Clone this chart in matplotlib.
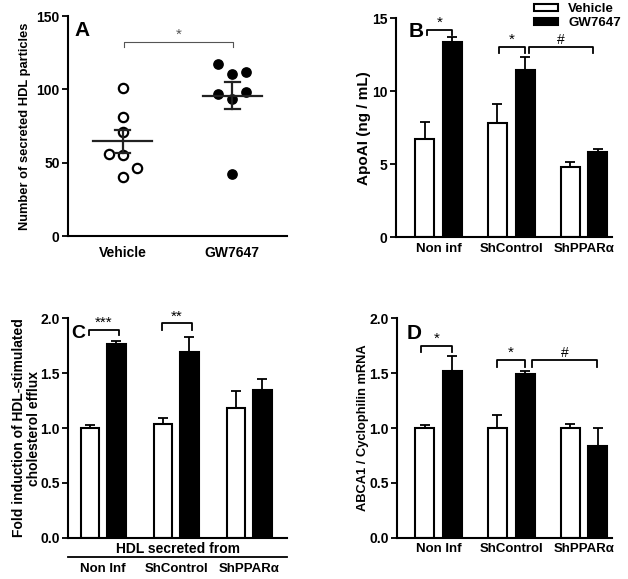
import matplotlib
matplotlib.use('Agg')
import matplotlib.pyplot as plt
from matplotlib.patches import Patch

plt.rcParams['font.family'] = ['Liberation Sans', 'DejaVu Sans']
plt.rcParams['font.weight'] = 'bold'
plt.rcParams['axes.labelweight'] = 'bold'

# panel A - dot plot
a_groups = ['Vehicle', 'GW7647']
a_vehicle = [101, 81.4, 71.1, 56.1, 55.2, 46.1, 40.2]
a_vehicle_dx = [0, 0, 0, -0.13, 0, 0.13, 0]
a_gw = [117, 110.5, 112, 97, 98.4, 93.4, 42.3]
a_gw_dx = [-0.13, 0, 0.13, -0.13, 0.13, 0, 0]
a_mean = [64.5, 95.7]
a_sem = [8.0, 9.3]

# bar panels
groups_b = ['Non inf', 'ShControl', 'ShPPARα']
groups_cd = ['Non Inf', 'ShControl', 'ShPPARα']

b_vehicle = [6.71, 7.85, 4.84]
b_vehicle_err = [1.21, 1.31, 0.30]
b_gw = [13.4, 11.48, 5.82]
b_gw_err = [0.3, 0.87, 0.21]

c_vehicle = [1.00, 1.04, 1.18]
c_vehicle_err = [0.03, 0.05, 0.155]
c_gw = [1.77, 1.69, 1.345]
c_gw_err = [0.025, 0.14, 0.10]

d_vehicle = [1.00, 1.00, 1.00]
d_vehicle_err = [0.025, 0.12, 0.04]
d_gw = [1.52, 1.49, 0.835]
d_gw_err = [0.135, 0.03, 0.165]

W, H = 628, 579
fig = plt.figure(figsize=(W / 100, H / 100), dpi=100)


def make_axes(left, right, top, bottom):
    ax = fig.add_axes([left / W, 1 - bottom / H, (right - left) / W, (bottom - top) / H])
    ax.spines['top'].set_visible(False)
    ax.spines['right'].set_visible(False)
    ax.spines['left'].set_linewidth(1.5)
    ax.spines['bottom'].set_linewidth(1.5)
    ax.tick_params(axis='y', length=4, width=1.3, pad=2, labelsize=10)
    ax.tick_params(axis='x', length=0, labelsize=9.5)
    return ax


def bracket(ax, x1, x2, y_top, y_low, txt, color='black', lw=1.3, fs=11):
    ax.plot([x1, x1, x2, x2], [y_low, y_top, y_top, y_low], color=color, lw=lw, clip_on=False)
    ax.text((x1 + x2) / 2, y_top, txt, ha='center', va='bottom', fontsize=fs, color=color,
            fontweight='normal')


def bar_panel(ax, veh, veh_err, gw, gw_err, off, width):
    x = range(len(veh))
    xv = [i - off for i in x]
    xg = [i + off for i in x]
    ax.bar(xv, veh, width, color='white', edgecolor='black', linewidth=1.5, zorder=2)
    ax.bar(xg, gw, width, color='black', edgecolor='black', linewidth=1.5, zorder=2)
    ax.errorbar(xv, veh, yerr=[[0] * len(veh), veh_err], fmt='none', ecolor='black',
                elinewidth=1.3, capsize=3.5, capthick=1.3, zorder=1)
    ax.errorbar(xg, gw, yerr=[[0] * len(gw), gw_err], fmt='none', ecolor='black',
                elinewidth=1.3, capsize=3.5, capthick=1.3, zorder=1)


# ---- A ----
axA = make_axes(68, 287, 16, 236)
axA.set_xlim(-0.5, 1.5)
axA.set_ylim(0, 150)
axA.set_yticks([0, 50, 100, 150])
axA.plot([0 + d for d in a_vehicle_dx], a_vehicle, 'o', ms=6.7, mfc='white', mec='black', mew=1.6,
         clip_on=False)
axA.plot([1 + d for d in a_gw_dx], a_gw, 'o', ms=6.7, mfc='black', mec='black', clip_on=False)
for i in range(2):
    axA.plot([i - 0.27, i + 0.27], [a_mean[i], a_mean[i]], color='#222222', lw=1.6)
    axA.plot([i, i], [a_mean[i] - a_sem[i], a_mean[i] + a_sem[i]], color='#222222', lw=1.6)
    for s in (-1, 1):
        axA.plot([i - 0.07, i + 0.07], [a_mean[i] + s * a_sem[i]] * 2, color='#222222', lw=1.6)
axA.set_xticks([0, 1])
axA.set_xticklabels(a_groups)
axA.tick_params(axis='x', pad=7, labelsize=10)
axA.set_ylabel('Number of secreted HDL particles', fontsize=9.3)
axA.yaxis.set_label_coords(-0.169, 0.5)
bracket(axA, 0.01, 1.01, 132.3, 129.2, '*', color='#555555', lw=0.8)
axA.text(0.03, 0.935, 'A', transform=axA.transAxes, fontsize=15, fontweight='bold', va='center')

# ---- B ----
axB = make_axes(395.7, 612, 18.3, 237.3)
bar_panel(axB, b_vehicle, b_vehicle_err, b_gw, b_gw_err, 0.19, 0.26)
axB.set_xlim(-0.59, 2.385)
axB.set_ylim(0, 15)
axB.set_yticks([0, 5, 10, 15])
axB.set_xticks([0, 1, 2])
axB.set_xticklabels(groups_b)
axB.tick_params(axis='x', pad=4)
axB.set_ylabel('ApoAI (ng / mL)', fontsize=11)
axB.yaxis.set_label_coords(-0.114, 0.5)
bracket(axB, -0.16, 0.19, 14.2, 13.86, '*')
bracket(axB, 0.83, 1.19, 13.06, 12.65, '*')
bracket(axB, 1.24, 2.12, 13.06, 12.65, '#', fs=10)
axB.text(0.06, 0.94, 'B', transform=axB.transAxes, fontsize=15, fontweight='bold', va='center')
handles = [Patch(facecolor='white', edgecolor='black', linewidth=1.5, label='Vehicle'),
           Patch(facecolor='black', edgecolor='black', linewidth=1.5, label='GW7647')]
fig.legend(handles=handles, loc='upper right', bbox_to_anchor=(621 / W, 1 - 3 / H),
           frameon=False, fontsize=9.5, handlelength=1.8, handleheight=0.5,
           handletextpad=0.8, labelspacing=0.15, borderpad=0, borderaxespad=0)

# ---- C ----
axC = make_axes(68.3, 287, 318.3, 537.7)
bar_panel(axC, c_vehicle, c_vehicle_err, c_gw, c_gw_err, 0.18, 0.255)
axC.set_xlim(-0.477, 2.518)
axC.set_ylim(0, 2.0)
axC.set_yticks([0, 0.5, 1.0, 1.5, 2.0])
axC.set_yticklabels(['0.0', '0.5', '1.0', '1.5', '2.0'])
axC.set_xticks([0, 1, 2])
axC.set_xticklabels(groups_cd)
axC.tick_params(axis='x', pad=18)
axC.set_ylabel('Fold induction of HDL-stimulated\ncholesterol efflux', fontsize=10, linespacing=1.05)
axC.yaxis.set_label_coords(-0.126, 0.5)
axC.text(0.5, -0.052, 'HDL secreted from', transform=axC.transAxes, ha='center', va='center',
         fontsize=10)
axC.plot([0, 1], [-0.087, -0.087], transform=axC.transAxes, color='black', lw=1.3, clip_on=False)
bracket(axC, -0.195, 0.218, 1.894, 1.848, '***')
bracket(axC, 0.805, 1.214, 1.954, 1.894, '**')
axC.text(0.012, 0.93, 'C', transform=axC.transAxes, fontsize=14, fontweight='bold', va='center')

# ---- D ----
axD = make_axes(397.3, 612, 318.3, 537.7)
bar_panel(axD, d_vehicle, d_vehicle_err, d_gw, d_gw_err, 0.19, 0.26)
axD.set_xlim(-0.567, 2.385)
axD.set_ylim(0, 2.0)
axD.set_yticks([0, 0.5, 1.0, 1.5, 2.0])
axD.set_yticklabels(['0.0', '0.5', '1.0', '1.5', '2.0'])
axD.set_xticks([0, 1, 2])
axD.set_xticklabels(groups_cd)
axD.tick_params(axis='x', pad=4)
axD.set_ylabel('ABCA1 / Cyclophilin mRNA', fontsize=9.3)
axD.yaxis.set_label_coords(-0.132, 0.5)
bracket(axD, -0.237, 0.179, 1.751, 1.696, '*')
bracket(axD, 0.806, 1.19, 1.62, 1.559, '*')
bracket(axD, 1.287, 2.179, 1.62, 1.559, '#', fs=10)
axD.text(0.045, 0.93, 'D', transform=axD.transAxes, fontsize=15, fontweight='bold', va='center')

fig.savefig('out.png', dpi=100)
